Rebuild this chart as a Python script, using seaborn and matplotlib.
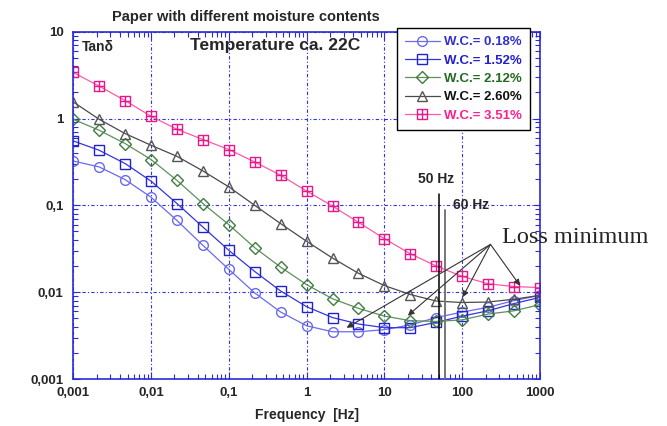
import numpy as np
import pandas as pd
import matplotlib
matplotlib.use('Agg')
import matplotlib.pyplot as plt
import seaborn as sns
from matplotlib.path import Path
from matplotlib.ticker import FixedLocator, FixedFormatter, LogLocator, NullFormatter

# frequencies (Hz), three points per decade
freq = [0.001, 0.00215, 0.00464, 0.01, 0.0215, 0.0464, 0.1, 0.215, 0.464,
        1, 2.15, 4.64, 10, 21.5, 46.4, 100, 215, 464, 1000]

# tan delta
wc_018 = [0.324, 0.277, 0.198, 0.124, 0.067, 0.0346, 0.0183, 0.0098, 0.0059, 0.0041,
          0.0035, 0.0035, 0.0037, 0.0042, 0.0051, 0.0059, 0.0067, 0.0080, 0.0092]
wc_152 = [0.552, 0.431, 0.303, 0.19, 0.105, 0.0562, 0.0303, 0.0173, 0.0103, 0.0068,
          0.0051, 0.0043, 0.0039, 0.0039, 0.0045, 0.0053, 0.0061, 0.0074, 0.0087]
wc_212 = [0.98, 0.733, 0.515, 0.337, 0.194, 0.105, 0.0599, 0.0325, 0.0194, 0.0122,
          0.0084, 0.0065, 0.0053, 0.0047, 0.0046, 0.0048, 0.0056, 0.0061, 0.0072]
wc_260 = [1.55, 0.98, 0.671, 0.492, 0.367, 0.249, 0.163, 0.1, 0.0615, 0.0385,
          0.0247, 0.0165, 0.0119, 0.0094, 0.0079, 0.0076, 0.0077, 0.0083, 0.0092]
wc_351 = [3.39, 2.36, 1.61, 1.06, 0.753, 0.573, 0.439, 0.316, 0.222, 0.146,
          0.098, 0.0637, 0.0413, 0.0277, 0.0200, 0.0152, 0.0125, 0.0116, 0.0113]

labels = ['W.C.= 0.18%', 'W.C.= 1.52%', 'W.C.= 2.12%', 'W.C.= 2.60%', 'W.C.= 3.51%']

x_ticks = [0.001, 0.01, 0.1, 1, 10, 100, 1000]
x_ticklabels = ['0,001', '0,01', '0,1', '1', '10', '100', '1000']
y_ticks = [0.001, 0.01, 0.1, 1, 10]
y_ticklabels = ['0,001', '0,01', '0,1', '1', '10']

# square with a cross inside (pink series)
box_cross = Path([(-1, -1), (1, -1), (1, 1), (-1, 1), (-1, -1), (0, -1), (0, 1), (-1, 0), (1, 0)],
                 [Path.MOVETO, Path.LINETO, Path.LINETO, Path.LINETO, Path.CLOSEPOLY,
                  Path.MOVETO, Path.LINETO, Path.MOVETO, Path.LINETO])

# line colour, marker edge colour, text colour, marker
styles = [
    ('#6a6aee', '#6a6aee', '#3333cc', 'o'),
    ('#3535dd', '#2222cc', '#2222cc', 's'),
    ('#5e8f5e', '#3d7d3d', '#226b22', 'D'),
    ('#4a4a4a', '#555555', '#111111', '^'),
    ('#ff5aa5', '#e8188a', '#ff1f8f', box_cross),
]
msizes = [7, 7, 6, 7.5, 7]

sns.set_style('ticks')
plt.rcParams['font.family'] = ['Liberation Sans', 'DejaVu Sans']
blue = '#2b2bd9'

fig = plt.figure(figsize=(6.67, 4.26), dpi=100)
ax = fig.add_axes([73.3 / 667, 1 - 379 / 426, (540 - 73.3) / 667, (379 - 31.7) / 426])
ax.set_xscale('log')
ax.set_yscale('log')

series = [wc_018, wc_152, wc_212, wc_260, wc_351]
for vals, lab, (lc, mc, tc, mk), ms in zip(series, labels, styles, msizes):
    df = pd.DataFrame({'freq': freq, 'tan': vals})
    sns.lineplot(data=df, x='freq', y='tan', ax=ax, color=lc, linewidth=0.9,
                 marker=mk, markersize=ms, markerfacecolor='none',
                 markeredgecolor=mc, markeredgewidth=1.0, label=lab, errorbar=None)

handles = list(ax.get_lines())

ax.set_xlim(0.001, 1000)
ax.set_ylim(0.001, 10)

ax.grid(which='major', color='#3333e0', linestyle=(0, (3, 2, 1, 2)), linewidth=0.8)
ax.grid(which='minor', visible=False)
for sp in ax.spines.values():
    sp.set_color(blue)
    sp.set_linewidth(1.2)
    sp.set_visible(True)

ax.xaxis.set_major_locator(FixedLocator(x_ticks))
ax.xaxis.set_major_formatter(FixedFormatter(x_ticklabels))
ax.yaxis.set_major_locator(FixedLocator(y_ticks))
ax.yaxis.set_major_formatter(FixedFormatter(y_ticklabels))
ax.xaxis.set_minor_locator(LogLocator(base=10, subs=np.arange(2, 10), numticks=20))
ax.yaxis.set_minor_locator(LogLocator(base=10, subs=np.arange(2, 10), numticks=20))
ax.xaxis.set_minor_formatter(NullFormatter())
ax.yaxis.set_minor_formatter(NullFormatter())
ax.tick_params(which='both', direction='in', color=blue, width=0.8,
               top=True, right=True)
ax.tick_params(which='major', length=5)
ax.tick_params(which='minor', length=3.5)
ax.tick_params(axis='x', which='major', labelsize=9.5, pad=6)
ax.tick_params(axis='y', which='major', labelsize=9.5, pad=7)
for t in ax.get_xticklabels() + ax.get_yticklabels():
    t.set_fontweight('bold')

ax.set_xlabel('Frequency  [Hz]', fontsize=10, fontweight='bold', labelpad=6)
ax.set_ylabel('')

# 50 Hz and 60 Hz markers
ax.plot([50, 50], [0.001, 0.134], color='black', linewidth=1.1, zorder=5)
ax.plot([60, 60], [0.001, 0.0875], color='#777777', linewidth=1.4, zorder=5)
ax.text(0.778, 0.576, '50 Hz', transform=ax.transAxes, ha='center', va='center',
        fontsize=10, fontweight='bold')
ax.text(0.852, 0.501, '60 Hz', transform=ax.transAxes, ha='center', va='center',
        fontsize=10, fontweight='bold')

# loss minimum arrows
origin = (231, 0.0355)
for tip in [(3.26, 0.00389), (20.0, 0.00538), (101, 0.00875), (553, 0.0119)]:
    ax.annotate('', xy=tip, xytext=origin,
                arrowprops=dict(arrowstyle='-|>', color='#333333', lw=0.8,
                                mutation_scale=9, shrinkA=0, shrinkB=0),
                annotation_clip=False, zorder=6)
ax.text(0.919, 0.406, 'Loss minimum', transform=ax.transAxes, ha='left', va='center',
        fontsize=17.5, family='Liberation Serif', clip_on=False)

ax.text(0.018, 0.956, 'Tan\u03b4', transform=ax.transAxes, ha='left', va='center',
        fontsize=10, fontweight='bold')
ax.text(0.4335, 0.959, 'Temperature ca. 22C', transform=ax.transAxes, ha='center',
        va='center', fontsize=12.5, fontweight='bold')
fig.text(246 / 667, 1 - 17 / 426, 'Paper with different moisture contents',
         ha='center', va='center', fontsize=10.5, fontweight='bold')

leg = ax.legend(handles=handles, labels=labels, loc='upper left',
                bbox_to_anchor=(397 / 667, 1 - 28 / 426), bbox_transform=fig.transFigure,
                borderaxespad=0, frameon=True, fancybox=False, edgecolor='black',
                framealpha=1, fontsize=9.5, handlelength=2.65, handletextpad=0.3,
                labelspacing=0.47, borderpad=0.6,
                labelcolor=[s[2] for s in styles],
                prop={'weight': 'bold', 'size': 9.5})
leg.get_frame().set_linewidth(1.0)
leg.set_zorder(10)

fig.savefig('out.png', dpi=100)
